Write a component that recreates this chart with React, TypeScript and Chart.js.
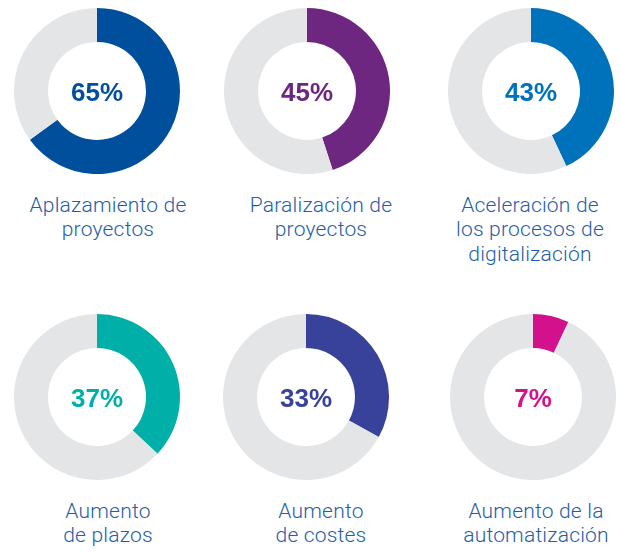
import React, { useEffect, useRef } from "react";
import { Chart, registerables } from "chart.js";

Chart.register(...registerables);

// ---- data ----
const categories: string[][] = [
  ["Aplazamiento de", "proyectos"],
  ["Paralización de", "proyectos"],
  ["Aceleración de", "los procesos de", "digitalización"],
  ["Aumento", "de plazos"],
  ["Aumento", "de costes"],
  ["Aumento de la", "automatización"],
];
const values: number[] = [65, 45, 43, 37, 33, 7];
const total = 100;

// ---- styles / layout ----
const sliceColors = ["#004f9d", "#6e2781", "#0071bb", "#00b0a8", "#39429a", "#d4118c"];
const restColor = "#e4e5e7";
const labelColor = "#1f5ea8";
const donutCenters: [number, number][] = [
  [97, 91],
  [307, 91],
  [531, 91],
  [97, 397],
  [306, 397],
  [533, 397],
];
const labelCentersX = [108, 321, 530, 108, 321, 536];
const DONUT_R = 83;
const LABEL_FIRST_BASELINE_OFFSET = 121; // from donut center to first label baseline
const LABEL_LINE = 24.5;
const LABEL_FONT = 21;

const centerTextPlugin = {
  id: "centerText",
  afterDraw(chart: any, _args: any, opts: any) {
    const { ctx } = chart;
    const meta = chart.getDatasetMeta(0);
    const arc = meta.data[0];
    if (!arc) return;
    ctx.save();
    ctx.font = "bold 26px 'Liberation Sans', Arial, sans-serif";
    ctx.fillStyle = opts.color;
    ctx.textAlign = "center";
    ctx.textBaseline = "alphabetic";
    ctx.fillText(opts.text, arc.x, arc.y + 10);
    ctx.restore();
  },
};

function Donut({ index }: { index: number }) {
  const ref = useRef<HTMLCanvasElement | null>(null);
  useEffect(() => {
    if (!ref.current) return;
    const v = values[index];
    const chart = new Chart(ref.current, {
      type: "doughnut",
      data: {
        labels: ["valor", "resto"],
        datasets: [
          {
            data: [v, total - v],
            backgroundColor: [sliceColors[index], restColor],
            borderWidth: 0,
            hoverOffset: 0,
          },
        ],
      },
      options: {
        responsive: false,
        animation: false,
        cutout: "59%",
        layout: { padding: 0 },
        events: [],
        plugins: {
          legend: { display: false },
          tooltip: { enabled: false },
          centerText: { text: v + "%", color: sliceColors[index] },
        } as any,
      },
      plugins: [centerTextPlugin],
    });
    return () => chart.destroy();
  }, [index]);
  const [cx, cy] = donutCenters[index];
  const size = DONUT_R * 2;
  return (
    <canvas
      ref={ref}
      width={size}
      height={size}
      style={{ position: "absolute", left: cx - DONUT_R, top: cy - DONUT_R, width: size, height: size }}
    />
  );
}

function Label({ index }: { index: number }) {
  const [, cy] = donutCenters[index];
  const lines = categories[index];
  // Roboto ascent ~0.928em, descent ~0.244em
  const content = LABEL_FONT * (0.928 + 0.244);
  const baselineInBox = (LABEL_LINE - content) / 2 + LABEL_FONT * 0.928;
  const top = cy + LABEL_FIRST_BASELINE_OFFSET - baselineInBox;
  const cxl = labelCentersX[index];
  return (
    <div
      style={{
        position: "absolute",
        left: cxl - 100,
        width: 200,
        top,
        textAlign: "center",
        fontFamily: "Roboto, 'Liberation Sans', sans-serif",
        fontWeight: 300,
        fontSize: LABEL_FONT,
        letterSpacing: "0.2px",
        lineHeight: LABEL_LINE + "px",
        color: labelColor,
        whiteSpace: "nowrap",
      }}
    >
      {lines.map((l, i) => (
        <div key={i}>{l}</div>
      ))}
    </div>
  );
}

export default function App() {
  return (
    <div
      style={{
        position: "absolute",
        left: 0,
        top: 0,
        width: 621,
        height: 552,
        background: "#ffffff",
        overflow: "hidden",
      }}
    >
      {values.map((_, i) => (
        <React.Fragment key={i}>
          <Donut index={i} />
          <Label index={i} />
        </React.Fragment>
      ))}
    </div>
  );
}
